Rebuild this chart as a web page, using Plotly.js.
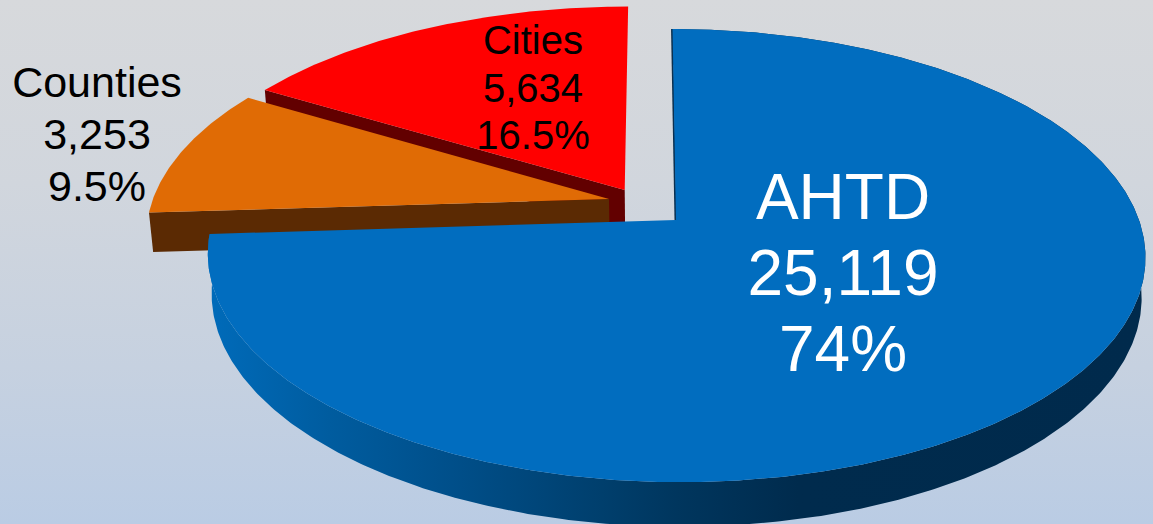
<!DOCTYPE html>
<html>
<head>
<meta charset="utf-8">
<script src="https://cdn.plot.ly/plotly-3.0.1.min.js"></script>
<style>
html,body{margin:0;padding:0;width:1153px;height:524px;overflow:hidden;background:linear-gradient(180deg,#d7d9dc 0%,#d1d6dd 35%,#c6d1e0 70%,#bacce4 100%);}
#chart{width:1153px;height:524px;}
</style>
</head>
<body>
<div id="chart"></div>
<script>
// Data
const categories = ["AHTD", "Counties", "Cities"];
const values = [25119, 3253, 5634];
const percents = [74, 9.5, 16.5];
const valueLabels = ["25,119", "3,253", "5,634"];
const percentLabels = ["74%", "9.5%", "16.5%"];

// Styles
const topColors = ["#016dbf", "#e06b05", "#ff0000"];
const wallColors = ["#003a68", "#5b2a03", "#620000"];
const textColors = ["#ffffff", "#000000", "#000000"];
const fontSizes = [64, 43, 40];
const labelX = [843, 97, 533];
const labelY = [203, 86, 44];
const lineGaps = [76, 52, 47.5];
const explodeU = [0, -0.146, -0.112];
const explodeV = [0, 0.0966, 0.1387];

// Perspective projection of the pie plane onto the picture
const X0 = 676, Y0 = 220, A = 463, B = 221, K = 0.157, S = -4, H = 40, M = 0.008;
function project(u, v, d) {
  const w = 1 + K * v + M * d;
  return [X0 + (A * u + S * v) / w, Y0 - (B * v - H * d) / w];
}

const total = percents.reduce((a, b) => a + b, 0);
const slices = [];
let acc = 0;
percents.forEach((val, i) => {
  const start = acc / total * 2 * Math.PI;
  acc += val;
  slices.push({start, end: acc / total * 2 * Math.PI, u0: explodeU[i], v0: explodeV[i]});
});

function rimPoint(s, t, d) {
  return project(s.u0 + Math.sin(t), s.v0 + Math.cos(t), d);
}
function arc(s, d) {
  const pts = [];
  const n = Math.ceil((s.end - s.start) / (Math.PI / 360));
  for (let i = 0; i <= n; i++) pts.push(rimPoint(s, s.start + (s.end - s.start) * i / n, d));
  return pts;
}
function polygon(pts, extra) {
  return Object.assign({
    type: "scatter", mode: "lines", hoverinfo: "skip", showlegend: false,
    x: pts.map(p => p[0]), y: pts.map(p => p[1]),
    fill: "toself", line: {width: 0}
  }, extra);
}
function topFace(i) {
  const s = slices[i];
  const apex = project(s.u0, s.v0, 0);
  return polygon([apex].concat(arc(s, 0), [apex]), {fillcolor: topColors[i]});
}
function cutWall(i, t) {
  const s = slices[i];
  const a0 = project(s.u0, s.v0, 0), a1 = project(s.u0, s.v0, 1);
  const r0 = rimPoint(s, t, 0), r1 = rimPoint(s, t, 1);
  return polygon([a0, r0, r1, a1, a0], {fillcolor: wallColors[i]});
}
function rimWall(i) {
  const s = slices[i];
  const pts = arc(s, 0).concat(arc(s, 1).reverse());
  pts.push(pts[0]);
  return polygon(pts, {
    fillgradient: {
      type: "horizontal",
      colorscale: [[0, "#006bba"], [0.13, "#005c9f"], [0.26, "#004f8a"], [0.42, "#003f6d"], [0.5, "#00365e"], [0.63, "#002b4d"], [1, "#002a4c"]]
    }
  });
}
function backEdge() {
  const s = slices[0];
  const a = project(s.u0, s.v0, 0), r = rimPoint(s, s.start, 0);
  return {type: "scatter", mode: "lines", hoverinfo: "skip", showlegend: false,
    x: [a[0] - 0.5, r[0] - 0.5], y: [a[1], r[1]], line: {color: "#0b3050", width: 2}};
}
function labelTrace(i) {
  const lines = [categories[i], valueLabels[i], percentLabels[i]];
  return {type: "scatter", mode: "text", hoverinfo: "skip", showlegend: false,
    x: lines.map(() => labelX[i]),
    y: lines.map((_, j) => labelY[i] + j * lineGaps[i]),
    text: lines, textposition: "middle center",
    textfont: {family: "Liberation Sans, Arial, sans-serif", size: fontSizes[i], color: textColors[i]}};
}

const traces = [
  cutWall(2, slices[2].start), topFace(2),
  cutWall(1, slices[1].start), topFace(1),
  rimWall(0), backEdge(), topFace(0),
  labelTrace(0), labelTrace(1), labelTrace(2)
];

const layout = {
  width: 1153, height: 524,
  margin: {l: 0, r: 0, t: 0, b: 0},
  paper_bgcolor: "rgba(0,0,0,0)", plot_bgcolor: "rgba(0,0,0,0)",
  xaxis: {range: [0, 1153], visible: false, fixedrange: true},
  yaxis: {range: [524, 0], visible: false, fixedrange: true},
  showlegend: false
};
Plotly.newPlot("chart", traces, layout, {displayModeBar: false, staticPlot: true});
</script>
</body>
</html>
